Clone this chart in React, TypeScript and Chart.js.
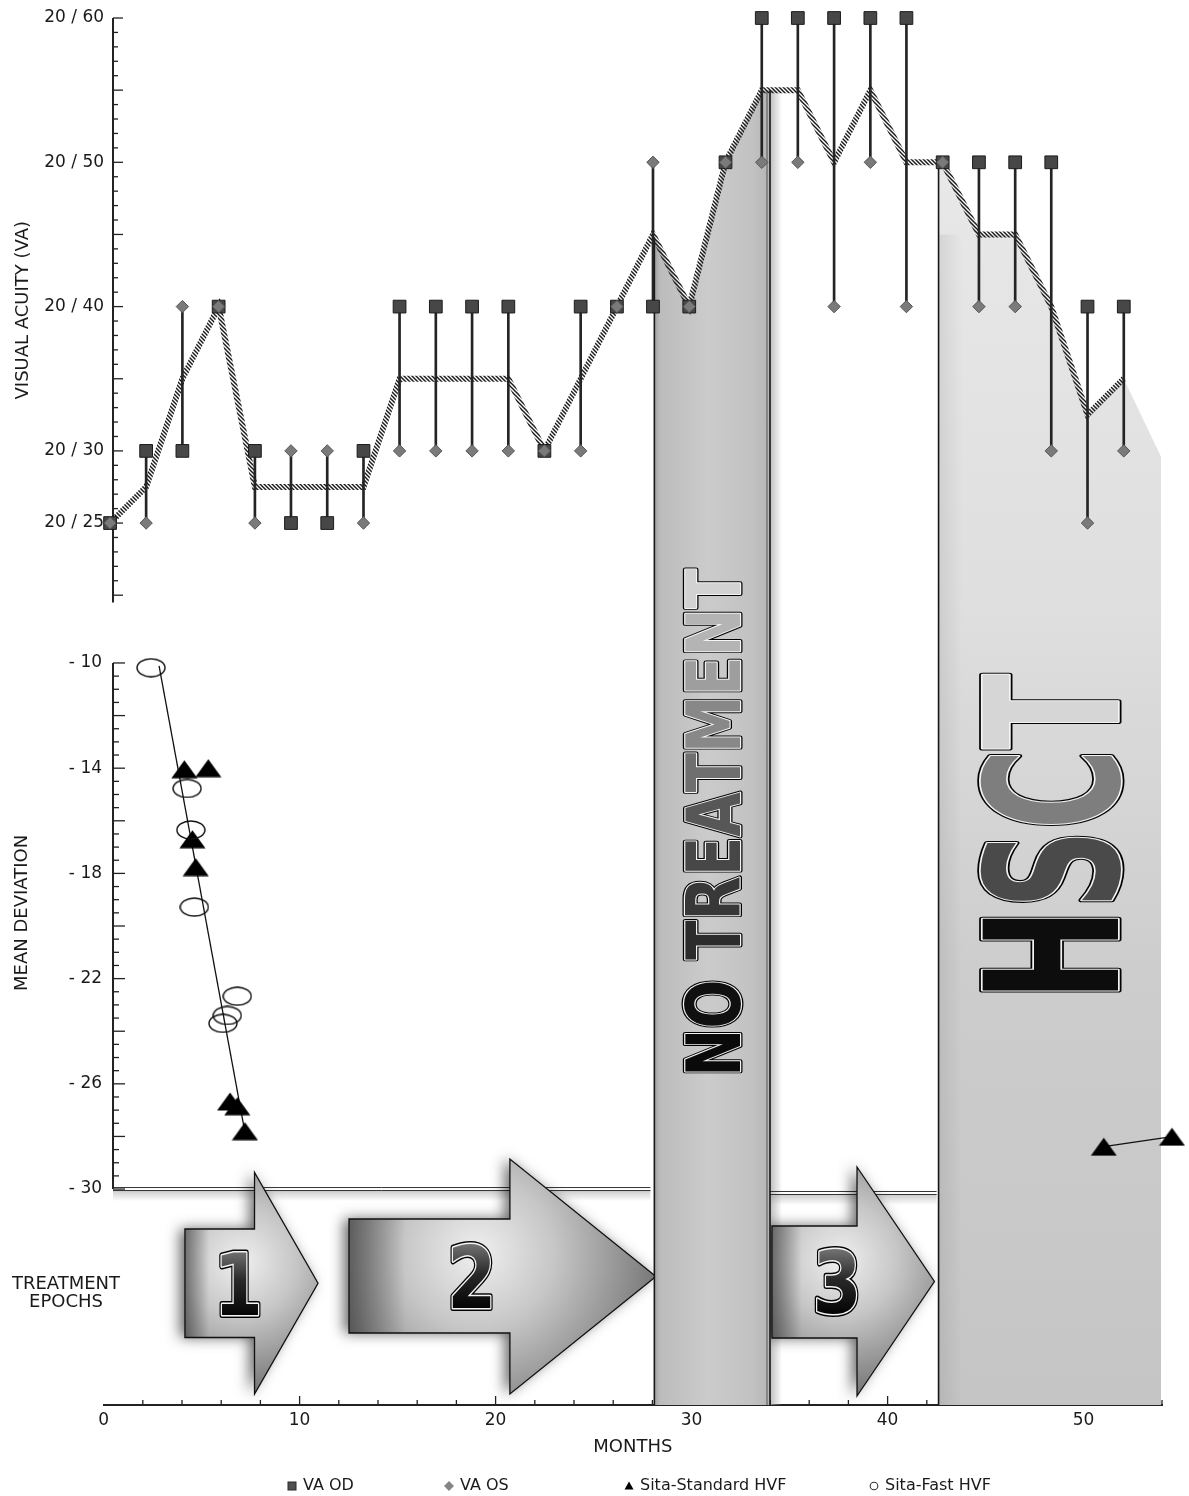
import React, { useEffect, useRef } from 'react';
import { Chart, registerables } from 'chart.js';

Chart.register(...registerables);

const FONT = '"DejaVu Sans", Verdana, sans-serif';

// ---------------- data ----------------
const visitMonths = [0.33, 2.17, 4.02, 5.87, 7.72, 9.56, 11.41, 13.26, 15.1, 16.95, 18.8, 20.65, 22.49, 24.34, 26.19, 28.03, 29.88, 31.73, 33.58, 35.42, 37.27, 39.12, 40.96, 42.81, 44.66, 46.51, 48.35, 50.2, 52.05];
const vaOD = [25, 30, 30, 40, 30, 25, 25, 30, 40, 40, 40, 40, 30, 40, 40, 40, 40, 50, 60, 60, 60, 60, 60, 50, 50, 50, 50, 40, 40];
const vaOS = [25, 25, 40, 40, 25, 30, 30, 25, 30, 30, 30, 30, 30, 30, 40, 50, 40, 50, 50, 50, 40, 50, 40, 50, 40, 40, 30, 25, 30];
const vaMean = [25, 27.5, 35, 40, 27.5, 27.5, 27.5, 27.5, 35, 35, 35, 35, 30, 35, 40, 45, 40, 50, 55, 55, 50, 55, 50, 50, 45, 45, 40, 32.5, 35];

const noTreatmentMonths = [28.1, 29.88, 31.73, 33.58, 34.0];
const noTreatmentVA = [44.8, 40, 50, 55, 55];
const hsctMonths = [42.6, 42.81, 44.66, 46.51, 48.35, 50.2, 52.05, 53.95];
const hsctVA = [50, 50, 45, 45, 40, 32.5, 35, 29.6];

const sitaStdMonths = [4.12, 5.34, 4.53, 4.7, 6.45, 6.82, 7.21, 51.03, 54.51];
const sitaStdMD = [-14.04, -14.0, -16.7, -17.76, -26.67, -26.85, -27.8, -28.39, -28.01];
const sitaFastMonths = [2.42, 4.26, 4.45, 4.63, 6.82, 6.31, 6.09];
const sitaFastMD = [-10.18, -14.77, -16.35, -19.28, -22.67, -23.4, -23.7];
const trendMonths = [2.83, 7.27];
const trendMD = [-10.11, -28.08];

const epochLabels = ['1', '2', '3'];
const epochStart = [4.15, 12.52, 34.1];
const epochHeadStart = [7.7, 20.73, 38.44];
const epochEnd = [10.94, 28.18, 42.39];

const bandLabels = ['NO TREATMENT', 'HSCT'];

const vaTicks = [25, 30, 40, 50, 60];
const vaTickLabels = ['20 / 25', '20 / 30', '20 / 40', '20 / 50', '20 / 60'];
const mdTicks = [-10, -14, -18, -22, -26, -30];
const mdTickLabels = ['- 10', '- 14', '- 18', '- 22', '- 26', '- 30'];
const monthTicks = [0, 10, 20, 30, 40, 50];
const legendLabels = ['VA OD', 'VA OS', 'Sita-Standard HVF', 'Sita-Fast HVF'];

// ---------------- layout / style constants ----------------
const AXIS_MONTH = 0.48;
const VA_AXIS = [19.5, 60];
const MD_AXIS = [-30, -10];
const ARROW_GEOM = [
  { bodyTop: 176, bodyBottom: 67.5, headTop: 232.5, headBottom: 11 },
  { bodyTop: 186, bodyBottom: 72, headTop: 246, headBottom: 11 },
  { bodyTop: 179, bodyBottom: 67, headTop: 238, headBottom: 9 },
];
const BAND_TEXT = [
  { md: -16.08, spanMD: 19.3, capPx: 55, outer: 5, inner: 2.4,
    colors: ['#0a0a0a', '#101010', '#000', '#2c2c2c', '#383838', '#474747', '#575757', '#6f6f6f', '#888888', '#9e9e9e', '#b4b4b4', '#d2d2d2'] },
  { md: -16.63, spanMD: 12.4, capPx: 136, outer: 7, inner: 3.4,
    colors: ['#0d0d0d', '#4a4a4a', '#7e7e7e', '#d6d6d6'] },
];
const LEGEND_X = [292, 449, 629, 874];

const pts = (xs: number[], ys: number[]) => xs.map((x, i) => ({ x, y: ys[i] }));

function seg(ctx: any, x1: number, y1: number, x2: number, y2: number) {
  ctx.beginPath();
  ctx.moveTo(x1, y1);
  ctx.lineTo(x2, y2);
  ctx.stroke();
}

function embossText(ctx: any, ch: string, x: number, y: number, outer: number, inner: number, fill: any) {
  ctx.lineJoin = 'round';
  ctx.strokeStyle = '#000';
  ctx.lineWidth = outer;
  ctx.strokeText(ch, x, y);
  ctx.strokeStyle = '#f4f4f4';
  ctx.lineWidth = inner;
  ctx.strokeText(ch, x, y);
  ctx.fillStyle = fill;
  ctx.fillText(ch, x, y);
}

const decorPlugin = {
  id: 'epochDecor',
  beforeDatasetsDraw(chart: any) {
    const { ctx, chartArea: ca, scales } = chart;
    const xs = scales.x, yVA = scales.yVA, yMD = scales.yMD, yEp = scales.yEp;
    const ax = xs.getPixelForValue(AXIS_MONTH);
    ctx.save();

    // light strip to the right of the NO TREATMENT band
    const ntEnd = xs.getPixelForValue(noTreatmentMonths[noTreatmentMonths.length - 1]);
    const ntTop = yVA.getPixelForValue(noTreatmentVA[noTreatmentVA.length - 1]);
    const sg = ctx.createLinearGradient(ntEnd, 0, ntEnd + 12, 0);
    sg.addColorStop(0, 'rgba(175,175,175,0.8)');
    sg.addColorStop(1, 'rgba(175,175,175,0)');
    ctx.fillStyle = sg;
    ctx.fillRect(ntEnd, ntTop, 12, ca.bottom - ntTop);

    // -30 base lines (double, with soft shadow)
    const baseSegs = [
      [AXIS_MONTH, noTreatmentMonths[0] - 0.2, -30],
      [noTreatmentMonths[noTreatmentMonths.length - 1], hsctMonths[0] - 0.1, -30.15],
    ];
    baseSegs.forEach(([a, b, v]) => {
      const x1 = xs.getPixelForValue(a), x2 = xs.getPixelForValue(b), py = yMD.getPixelForValue(v);
      const g = ctx.createLinearGradient(0, py, 0, py + 12);
      g.addColorStop(0, 'rgba(150,150,150,0.55)');
      g.addColorStop(1, 'rgba(150,150,150,0)');
      ctx.fillStyle = g;
      ctx.fillRect(x1, py + 1, x2 - x1, 12);
      ctx.strokeStyle = '#333';
      ctx.lineWidth = 1;
      seg(ctx, x1, py - 1.5, x2, py - 1.5);
      seg(ctx, x1, py + 1.5, x2, py + 1.5);
    });

    // treatment epoch arrows
    epochLabels.forEach((lbl, i) => {
      const gm = ARROW_GEOM[i];
      const x0 = xs.getPixelForValue(epochStart[i]);
      const xh = xs.getPixelForValue(epochHeadStart[i]);
      const x1 = xs.getPixelForValue(epochEnd[i]);
      const bt = yEp.getPixelForValue(gm.bodyTop), bb = yEp.getPixelForValue(gm.bodyBottom);
      const ht = yEp.getPixelForValue(gm.headTop), hb = yEp.getPixelForValue(gm.headBottom);
      const ym = (ht + hb) / 2;
      const path = new Path2D();
      path.moveTo(x0, bt); path.lineTo(xh, bt); path.lineTo(xh, ht); path.lineTo(x1, ym);
      path.lineTo(xh, hb); path.lineTo(xh, bb); path.lineTo(x0, bb); path.closePath();
      ctx.save();
      ctx.shadowColor = 'rgba(0,0,0,0.6)';
      ctx.shadowBlur = 14;
      ctx.shadowOffsetX = -5;
      ctx.fillStyle = '#8a8a8a';
      ctx.fill(path);
      ctx.restore();
      const cx = x0 + (x1 - x0) * 0.42, cy = bt + (bb - bt) * 0.3;
      const r = Math.max(x1 - x0, hb - ht) * 0.7;
      const rg = ctx.createRadialGradient(cx, cy, 2, cx, cy, r);
      rg.addColorStop(0, '#eeeeee');
      rg.addColorStop(0.35, '#c6c6c6');
      rg.addColorStop(0.75, '#868686');
      rg.addColorStop(1, '#5a5a5a');
      ctx.fillStyle = rg;
      ctx.fill(path);
      const lg = ctx.createLinearGradient(x0, 0, x0 + (xh - x0) * 0.35, 0);
      lg.addColorStop(0, 'rgba(40,40,40,0.55)');
      lg.addColorStop(1, 'rgba(40,40,40,0)');
      ctx.fillStyle = lg;
      ctx.fill(path);
      ctx.strokeStyle = '#111';
      ctx.lineWidth = 1.3;
      ctx.stroke(path);
      // digit
      const dx = x0 + (x1 - x0) * 0.4;
      const fs = 86, capH = fs * 0.73;
      ctx.save();
      ctx.translate(dx, ym);
      ctx.scale(0.82, 1);
      ctx.font = `bold ${fs}px ${FONT}`;
      ctx.textAlign = 'center';
      ctx.textBaseline = 'alphabetic';
      const dg = ctx.createLinearGradient(0, -capH / 2, 0, capH / 2);
      dg.addColorStop(0, '#707070');
      dg.addColorStop(0.45, '#2a2a2a');
      dg.addColorStop(1, '#050505');
      embossText(ctx, lbl, 0, capH / 2, 6, 3, dg);
      ctx.restore();
    });

    // left axes
    ctx.strokeStyle = '#222';
    ctx.fillStyle = '#1a1a1a';
    ctx.font = `17px ${FONT}`;
    ctx.textAlign = 'right';
    ctx.textBaseline = 'middle';
    // VA axis
    ctx.lineWidth = 2;
    seg(ctx, ax, yVA.getPixelForValue(VA_AXIS[1]), ax, yVA.getPixelForValue(VA_AXIS[0]));
    ctx.lineWidth = 1.3;
    for (let v = Math.ceil(VA_AXIS[0]); v <= VA_AXIS[1]; v++) {
      const py = yVA.getPixelForValue(v);
      seg(ctx, ax, py, ax + (v % 5 === 0 ? 10 : 5), py);
    }
    vaTicks.forEach((v, i) => ctx.fillText(vaTickLabels[i], ax - 9, yVA.getPixelForValue(v)));
    // MD axis
    ctx.lineWidth = 2;
    seg(ctx, ax, yMD.getPixelForValue(MD_AXIS[1]), ax, yMD.getPixelForValue(MD_AXIS[0]));
    ctx.lineWidth = 1.3;
    for (let k = 0; k <= (MD_AXIS[1] - MD_AXIS[0]) * 2; k++) {
      const v = MD_AXIS[0] + k / 2;
      const py = yMD.getPixelForValue(v);
      seg(ctx, ax, py, ax + (k % 4 === 0 ? 12 : 6), py);
    }
    mdTicks.forEach((v, i) => ctx.fillText(mdTickLabels[i], ax - 11, yMD.getPixelForValue(v)));

    // x tick marks (inside, upward)
    for (let m = 2; m <= xs.max; m += 2) {
      const px = xs.getPixelForValue(m);
      seg(ctx, px, ca.bottom, px, ca.bottom - (m % 10 === 0 ? 9 : 5));
    }

    // axis titles
    ctx.font = `18px ${FONT}`;
    ctx.textAlign = 'center';
    ctx.textBaseline = 'alphabetic';
    const capT = 18 * 0.73;
    const vertical = (txt: string, cx: number, cy: number) => {
      ctx.save();
      ctx.translate(cx, cy);
      ctx.rotate(-Math.PI / 2);
      ctx.fillText(txt, 0, capT / 2);
      ctx.restore();
    };
    vertical('VISUAL ACUITY (VA)', 21, yVA.getPixelForValue((VA_AXIS[0] + VA_AXIS[1]) / 2));
    vertical('MEAN DEVIATION', 20, yMD.getPixelForValue(-19.5));
    ctx.textBaseline = 'middle';
    ctx.fillText('TREATMENT', 66, yEp.getPixelForValue(121));
    ctx.fillText('EPOCHS', 66, yEp.getPixelForValue(103));
    ctx.restore();
  },

  afterDatasetDraw(chart: any, args: any) {
    const ds: any = chart.data.datasets[args.index];
    if (ds.bandIndex === undefined) return;
    const b = ds.bandIndex;
    const { ctx, chartArea: ca, scales } = chart;
    const xs = scales.x, yVA = scales.yVA, yMD = scales.yMD;
    const months = b === 0 ? noTreatmentMonths : hsctMonths;
    const vals = b === 0 ? noTreatmentVA : hsctVA;
    const x0 = xs.getPixelForValue(months[0]);
    const x1 = xs.getPixelForValue(months[months.length - 1]);
    ctx.save();
    if (b === 1) {
      const top = yVA.getPixelForValue(45);
      const g = ctx.createLinearGradient(x0, 0, x0 + 24, 0);
      g.addColorStop(0, 'rgba(0,0,0,0.08)');
      g.addColorStop(1, 'rgba(0,0,0,0)');
      ctx.fillStyle = g;
      ctx.fillRect(x0, top, 24, ca.bottom - top);
    }
    ctx.strokeStyle = '#161616';
    ctx.lineWidth = 1.6;
    seg(ctx, x0, yVA.getPixelForValue(vals[0]), x0, ca.bottom);
    if (b === 0) {
      const top = yVA.getPixelForValue(vals[vals.length - 1]);
      seg(ctx, x1, top, x1, ca.bottom);
      ctx.lineWidth = 1;
      ctx.strokeStyle = '#555';
      seg(ctx, x1 - 3, top + 2, x1 - 3, ca.bottom);
    }
    // big vertical band label
    const st = BAND_TEXT[b];
    const text = bandLabels[b];
    const cx = (x0 + x1) / 2;
    const cy = yMD.getPixelForValue(st.md);
    const len = Math.abs(yMD.getPixelForValue(st.md - st.spanMD / 2) - yMD.getPixelForValue(st.md + st.spanMD / 2));
    const fs = st.capPx / 0.73;
    ctx.translate(cx, cy);
    ctx.rotate(-Math.PI / 2);
    ctx.font = `bold ${fs}px ${FONT}`;
    ctx.textAlign = 'left';
    ctx.textBaseline = 'alphabetic';
    const chars = Array.from(text);
    const widths = chars.map((c) => ctx.measureText(c).width);
    const total = widths.reduce((a, w) => a + w, 0);
    ctx.scale(len / total, 1);
    let px = -total / 2;
    chars.forEach((c, i) => {
      if (c !== ' ') embossText(ctx, c, px, st.capPx / 2, st.outer, st.inner, st.colors[i]);
      px += widths[i];
    });
    ctx.restore();
  },

  afterDraw(chart: any) {
    const { ctx } = chart;
    const y = chart.height - 10;
    ctx.save();
    ctx.font = `16px ${FONT}`;
    ctx.textAlign = 'left';
    ctx.textBaseline = 'middle';
    legendLabels.forEach((lbl, i) => {
      const x = LEGEND_X[i];
      ctx.beginPath();
      if (i === 0) {
        ctx.fillStyle = '#505050';
        ctx.fillRect(x - 4, y - 4, 8, 8);
        ctx.strokeStyle = '#2a2a2a';
        ctx.lineWidth = 1;
        ctx.strokeRect(x - 4, y - 4, 8, 8);
      } else if (i === 1) {
        ctx.fillStyle = '#858585';
        ctx.moveTo(x, y - 5); ctx.lineTo(x + 5, y); ctx.lineTo(x, y + 5); ctx.lineTo(x - 5, y); ctx.closePath();
        ctx.fill();
      } else if (i === 2) {
        ctx.fillStyle = '#000';
        ctx.moveTo(x, y - 4.5); ctx.lineTo(x + 4.5, y + 3.5); ctx.lineTo(x - 4.5, y + 3.5); ctx.closePath();
        ctx.fill();
      } else {
        ctx.strokeStyle = '#333';
        ctx.lineWidth = 1.1;
        ctx.arc(x, y, 3.8, 0, Math.PI * 2);
        ctx.stroke();
      }
      ctx.fillStyle = '#1a1a1a';
      ctx.fillText(lbl, x + 11, y);
    });
    ctx.restore();
  },
};

function makeTriangle(w: number, h: number) {
  const c = document.createElement('canvas');
  c.width = w; c.height = h;
  const g = c.getContext('2d')!;
  g.fillStyle = '#000';
  g.beginPath();
  g.moveTo(w / 2, 0.5); g.lineTo(w - 0.5, h - 0.5); g.lineTo(0.5, h - 0.5); g.closePath();
  g.fill();
  return c;
}

function makeEllipse(w: number, h: number) {
  const c = document.createElement('canvas');
  c.width = w; c.height = h;
  const g = c.getContext('2d')!;
  g.strokeStyle = '#111';
  g.lineWidth = 1.4;
  g.beginPath();
  g.ellipse(w / 2, h / 2, w / 2 - 1, h / 2 - 1, 0, 0, Math.PI * 2);
  g.stroke();
  return c;
}

function makeHatch() {
  const c = document.createElement('canvas');
  c.width = 4; c.height = 4;
  const g = c.getContext('2d')!;
  g.strokeStyle = '#1c1c1c';
  g.lineWidth = 1.5;
  g.lineCap = 'square';
  const d = (x1: number, y1: number, x2: number, y2: number) => { g.beginPath(); g.moveTo(x1, y1); g.lineTo(x2, y2); g.stroke(); };
  d(0, 0, 4, 4);
  d(-2, 2, 2, 6);
  d(2, -2, 6, 2);
  return g.createPattern(c, 'repeat');
}

export default function App() {
  const ref = useRef<HTMLCanvasElement>(null);
  useEffect(() => {
    const canvas = ref.current;
    if (!canvas) return;
    const tri = makeTriangle(27, 19);
    const ell = makeEllipse(30, 20);
    const hatch = makeHatch();

    const ntFill = (c: any) => {
      const chart = c.chart;
      const xs = chart.scales && chart.scales.x;
      if (!chart.chartArea || !xs) return '#c4c4c4';
      const x0 = xs.getPixelForValue(noTreatmentMonths[0]);
      const x1 = xs.getPixelForValue(noTreatmentMonths[noTreatmentMonths.length - 1]);
      const g = chart.ctx.createLinearGradient(x0, 0, x1, 0);
      g.addColorStop(0, '#a0a0a0');
      g.addColorStop(0.05, '#bcbcbc');
      g.addColorStop(0.45, '#cbcbcb');
      g.addColorStop(0.85, '#c2c2c2');
      g.addColorStop(1, '#b4b4b4');
      return g;
    };
    const hsctFill = (c: any) => {
      const chart = c.chart;
      const yv = chart.scales && chart.scales.yVA;
      if (!chart.chartArea || !yv) return '#d4d4d4';
      const top = yv.getPixelForValue(Math.max(...hsctVA));
      const g = chart.ctx.createLinearGradient(0, top, 0, chart.chartArea.bottom);
      g.addColorStop(0, '#e8e8e8');
      g.addColorStop(0.35, '#dfdfdf');
      g.addColorStop(0.65, '#cdcdcd');
      g.addColorStop(1, '#c5c5c5');
      return g;
    };

    const chart = new Chart(canvas, {
      type: 'line',
      data: {
        datasets: [
          { type: 'line', label: bandLabels[0], bandIndex: 0, data: pts(noTreatmentMonths, noTreatmentVA), yAxisID: 'yVA', fill: 'start', backgroundColor: ntFill, borderWidth: 0, pointRadius: 0, order: 20 } as any,
          { type: 'line', label: bandLabels[1], bandIndex: 1, data: pts(hsctMonths, hsctVA), yAxisID: 'yVA', fill: 'start', backgroundColor: hsctFill, borderWidth: 0, pointRadius: 0, order: 19 } as any,
          { type: 'line', label: 'VA mean', data: pts(visitMonths, vaMean), yAxisID: 'yVA', borderColor: hatch, borderWidth: 6, borderCapStyle: 'butt', pointRadius: 0, fill: false, order: 6 } as any,
          { type: 'bar', label: 'VA range', data: visitMonths.map((m, i) => ({ x: m, y: [Math.min(vaOD[i], vaOS[i]), Math.max(vaOD[i], vaOS[i])] })), yAxisID: 'yVA', backgroundColor: '#242424', barThickness: 2, order: 5 } as any,
          { type: 'line', label: legendLabels[0], data: pts(visitMonths, vaOD), yAxisID: 'yVA', showLine: false, pointStyle: 'rect', pointRadius: 9, pointBackgroundColor: '#474747', pointBorderColor: '#1c1c1c', pointBorderWidth: 1, order: 2, clip: false } as any,
          { type: 'line', label: legendLabels[1], data: pts(visitMonths, vaOS), yAxisID: 'yVA', showLine: false, pointStyle: 'rectRot', pointRadius: 6.2, pointBackgroundColor: '#7a7a7a', pointBorderColor: '#555', pointBorderWidth: 1, order: 1, clip: false } as any,
          { type: 'line', label: 'MD trend', data: pts(trendMonths, trendMD), yAxisID: 'yMD', borderColor: '#111', borderWidth: 1.3, pointRadius: 0, fill: false, order: 4, clip: false } as any,
          { type: 'line', label: 'HSCT HVF', data: pts(sitaStdMonths.slice(-2), sitaStdMD.slice(-2)), yAxisID: 'yMD', borderColor: '#111', borderWidth: 1.3, pointRadius: 0, fill: false, order: 4, clip: false } as any,
          { type: 'line', label: legendLabels[2], data: pts(sitaStdMonths, sitaStdMD), yAxisID: 'yMD', showLine: false, pointStyle: tri, pointRadius: 14, order: 3, clip: false } as any,
          { type: 'line', label: legendLabels[3], data: pts(sitaFastMonths, sitaFastMD), yAxisID: 'yMD', showLine: false, pointStyle: ell, pointRadius: 14, order: 2, clip: false } as any,
        ],
      },
      options: {
        animation: false,
        responsive: false,
        devicePixelRatio: 1,
        events: [],
        layout: { padding: { left: 103.6, right: 27, top: 18, bottom: 34 } },
        plugins: { legend: { display: false }, tooltip: { enabled: false }, title: { display: false } },
        scales: {
          x: {
            type: 'linear', min: 0, max: 54, offset: false,
            afterFit: (s: any) => { s.height = 57; },
            grid: { display: false, drawTicks: false, offset: false },
            border: { display: true, color: '#222', width: 2 },
            ticks: {
              stepSize: 2, autoSkip: false, maxRotation: 0, minRotation: 0, padding: 5,
              color: '#1a1a1a', font: { family: FONT, size: 17 },
              callback: (v: any) => (monthTicks.includes(Number(v)) ? String(v) : ''),
            },
            title: { display: true, text: 'MONTHS', color: '#1a1a1a', font: { family: FONT, size: 18 }, padding: { top: 6, bottom: 4 } },
          },
          yVA: { type: 'linear', display: false, min: -36.12, max: 60 },
          yMD: { type: 'linear', display: false, min: -38.21, max: 14.52 },
          yEp: { type: 'linear', display: false, min: 0, max: 1387 },
        } as any,
      },
      plugins: [decorPlugin as any],
    } as any);
    return () => chart.destroy();
  }, []);

  return (
    <div style={{ position: 'absolute', left: 0, top: 0, width: 1189, height: 1496, background: '#fff' }}>
      <canvas ref={ref} width={1189} height={1496} style={{ display: 'block', width: 1189, height: 1496 }} />
    </div>
  );
}
